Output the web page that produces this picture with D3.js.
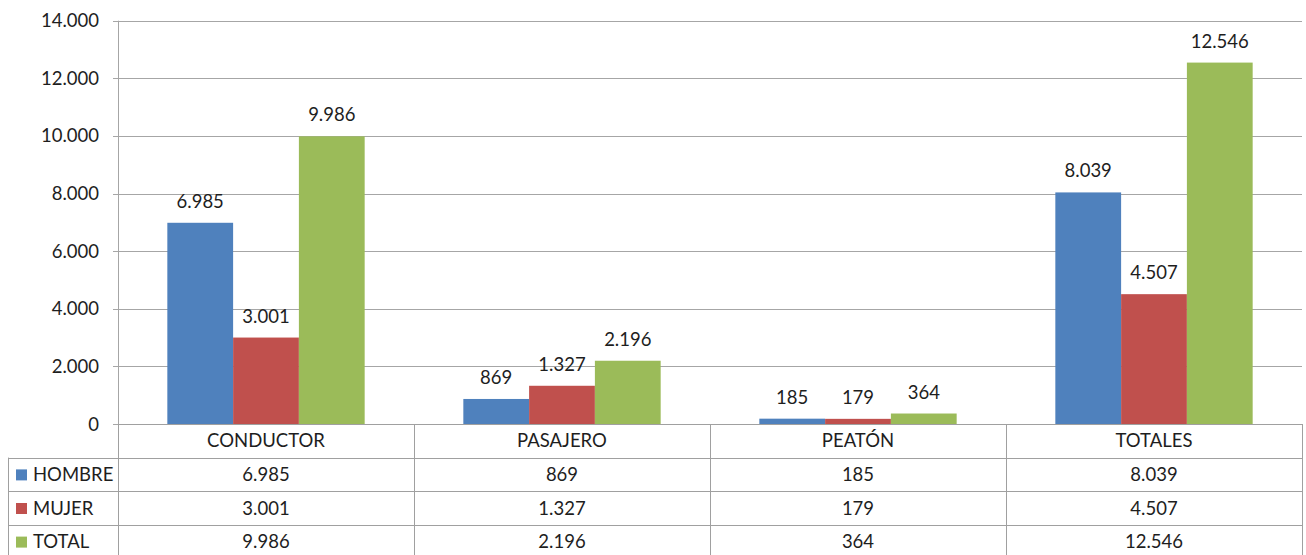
<!DOCTYPE html>
<html>
<head>
<meta charset="utf-8">
<script src="https://cdn.jsdelivr.net/npm/d3@7"></script>
<style>
  body { margin: 0; background: #fff; }
  text { font-family: Lato, "Noto Sans", sans-serif; fill: #1e1e1e; }
</style>
</head>
<body>
<div id="chart"></div>
<script>
var categories = ['CONDUCTOR', 'PASAJERO', 'PEATÓN', 'TOTALES'];
var seriesNames = ['HOMBRE', 'MUJER', 'TOTAL'];
var hombre = [6985, 869, 185, 8039];
var mujer = [3001, 1327, 179, 4507];
var total = [9986, 2196, 364, 12546];
var yTicks = [0, 2000, 4000, 6000, 8000, 10000, 12000, 14000];
var colors = ['#4F81BD', '#C0504D', '#9BBB59'];

var series = [hombre, mujer, total];

var w = 1306;
var h = 555;
var plotLeft = 118, plotRight = 1302, plotTop = 20.7, plotBottom = 424;
var rowH = 33.6;
var tableLeft = 8;
var fs = '18.5px';

var locale = d3.formatLocale({decimal: ',', thousands: '.', grouping: [3], currency: ['', '']});
var fmt = locale.format(',d');

var svg = d3.select('#chart')
            .append('svg')
            .attr('width', w)
            .attr('height', h);

var x = d3.scaleBand()
  .domain(categories)
  .range([plotLeft, plotRight])
  .paddingInner(0)
  .paddingOuter(0);

// gap width 150% -> group takes 3 bars out of 4.5
var x1 = d3.scaleBand()
  .domain(seriesNames)
  .range([0, x.bandwidth()])
  .paddingInner(0)
  .paddingOuter(0.75);

var y = d3.scaleLinear()
  .domain([0, 14000])
  .range([plotBottom, plotTop]);

// gridlines
svg.append('g')
  .selectAll('line')
  .data(yTicks)
  .enter()
  .append('line')
  .attr('x1', plotLeft - 5)
  .attr('x2', plotRight)
  .attr('y1', function(d) { return Math.round(y(d)) + 0.5; })
  .attr('y2', function(d) { return Math.round(y(d)) + 0.5; })
  .attr('stroke', '#a6a6a6')
  .attr('stroke-width', 1);

// y axis line
svg.append('line')
  .attr('x1', plotLeft + 0.5).attr('x2', plotLeft + 0.5)
  .attr('y1', plotTop).attr('y2', plotBottom)
  .attr('stroke', '#a6a6a6');

// y labels
svg.append('g')
  .selectAll('text')
  .data(yTicks)
  .enter()
  .append('text')
  .text(function(d) { return fmt(d); })
  .attr('text-anchor', 'end')
  .attr('x', 99)
  .attr('y', function(d) { return y(d) + 6.5; })
  .attr('font-size', fs);

// bars
var groups = svg.append('g')
  .selectAll('g')
  .data(series)
  .enter()
  .append('g')
  .attr('fill', function(d, i) { return colors[i]; });

function rows(d, i) {
  return d.map(function(v, j) { return {v: v, c: categories[j], s: seriesNames[i]}; });
}

groups.selectAll('rect')
  .data(rows)
  .enter()
  .append('rect')
  .attr('x', function(d) { return x(d.c) + x1(d.s); })
  .attr('y', function(d) { return y(d.v); })
  .attr('width', x1.bandwidth())
  .attr('height', function(d) { return plotBottom - y(d.v); });

svg.append('g')
  .selectAll('g')
  .data(series)
  .enter()
  .append('g')
  .selectAll('text')
  .data(rows)
  .enter()
  .append('text')
  .text(function(d) { return fmt(d.v); })
  .attr('text-anchor', 'middle')
  .attr('x', function(d) { return x(d.c) + x1(d.s) + x1.bandwidth() / 2; })
  .attr('y', function(d) { return y(d.v) - 15; })
  .attr('font-size', fs);

// data table
var table = svg.append('g');
var lineColor = '#a0a0a0';

table.append('line')
  .attr('x1', plotLeft).attr('x2', plotRight)
  .attr('y1', plotBottom + 0.5).attr('y2', plotBottom + 0.5)
  .attr('stroke', lineColor);
seriesNames.forEach(function(s, i) {
  var yy = Math.round(plotBottom + rowH * (i + 1)) + 0.5;
  table.append('line')
    .attr('x1', tableLeft).attr('x2', plotRight)
    .attr('y1', yy).attr('y2', yy)
    .attr('stroke', lineColor);
});
var tableBottom = plotBottom + rowH * 4;
table.append('line')
  .attr('x1', tableLeft).attr('x2', plotRight)
  .attr('y1', tableBottom).attr('y2', tableBottom)
  .attr('stroke', lineColor);

table.append('line')
  .attr('x1', tableLeft + 0.5).attr('x2', tableLeft + 0.5)
  .attr('y1', plotBottom + rowH).attr('y2', tableBottom)
  .attr('stroke', lineColor);
categories.forEach(function(c) {
  var xx = Math.round(x(c)) + 0.5;
  table.append('line')
    .attr('x1', xx).attr('x2', xx)
    .attr('y1', plotBottom).attr('y2', tableBottom)
    .attr('stroke', lineColor);
});
table.append('line')
  .attr('x1', plotRight + 0.5).attr('x2', plotRight + 0.5)
  .attr('y1', plotBottom).attr('y2', tableBottom)
  .attr('stroke', lineColor);

table.selectAll('text.cat')
  .data(categories)
  .enter()
  .append('text')
  .attr('class', 'cat')
  .text(function(d) { return d; })
  .attr('text-anchor', 'middle')
  .attr('x', function(d) { return x(d) + x.bandwidth() / 2; })
  .attr('y', plotBottom + rowH / 2 + 6.5)
  .attr('font-size', fs);

seriesNames.forEach(function(s, i) {
  var cy = plotBottom + rowH * (i + 1) + rowH / 2;
  table.append('rect')
    .attr('x', 16)
    .attr('y', cy - 5)
    .attr('width', 11)
    .attr('height', 11)
    .attr('fill', colors[i]);
  table.append('text')
    .text(s)
    .attr('x', 33)
    .attr('y', cy + 6.5)
    .attr('font-size', fs);
  table.selectAll('text.v' + i)
    .data(series[i])
    .enter()
    .append('text')
    .attr('class', 'v' + i)
    .text(function(d) { return fmt(d); })
    .attr('text-anchor', 'middle')
    .attr('x', function(d, j) { return x(categories[j]) + x.bandwidth() / 2; })
    .attr('y', cy + 6.5)
    .attr('font-size', fs);
});
</script>
</body>
</html>
